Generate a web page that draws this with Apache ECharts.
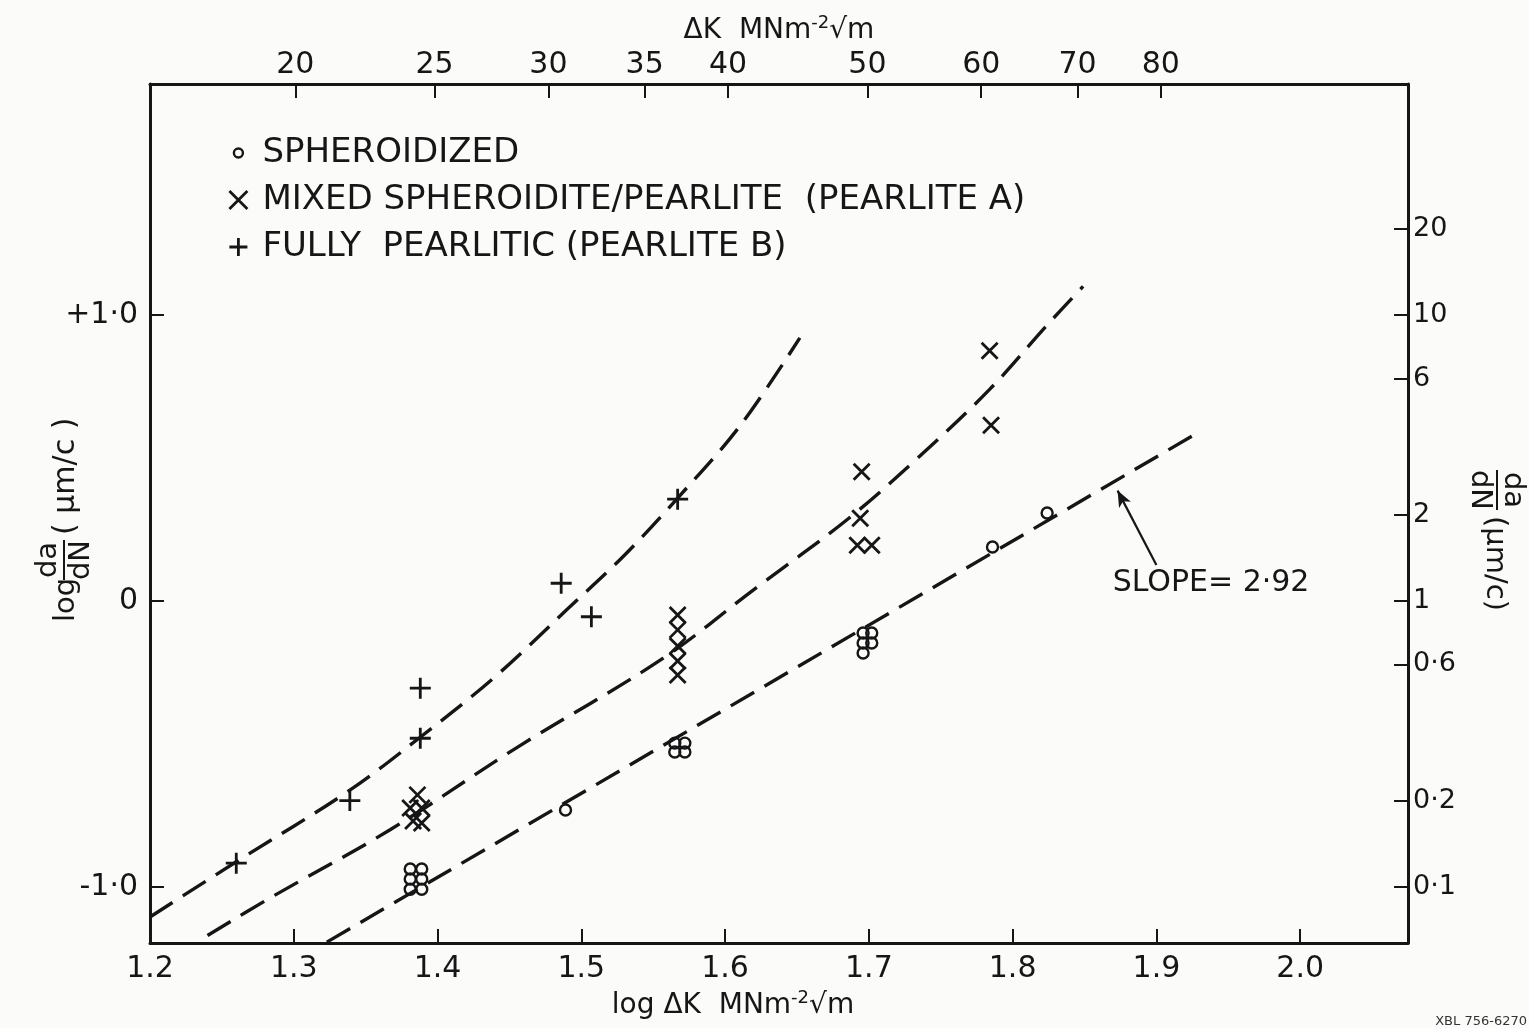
<!DOCTYPE html>
<html>
<head>
<meta charset="utf-8">
<script src="https://cdn.jsdelivr.net/npm/echarts@6/dist/echarts.min.js"></script>
<style>
  html, body { margin: 0; padding: 0; background: #fbfbfa; }
  #chart { width: 1529px; height: 1028px; }
</style>
</head>
<body>
<div id="chart"></div>
<script>
// ---------- data ----------
// Spheroidized (open circles): x = log dK, y = log da/dN
const spheroX = [1.381, 1.389, 1.381, 1.389, 1.381, 1.389, 1.489, 1.565, 1.572, 1.565, 1.572, 1.696, 1.702, 1.696, 1.702, 1.696, 1.786, 1.824];
const spheroY = [-0.937, -0.937, -0.972, -0.972, -1.008, -1.008, -0.731, -0.497, -0.497, -0.528, -0.528, -0.112, -0.112, -0.147, -0.147, -0.182, 0.189, 0.308];
// Mixed spheroidite/pearlite (crosses)
const mixedX = [1.386, 1.381, 1.389, 1.383, 1.389, 1.567, 1.567, 1.567, 1.567, 1.567, 1.695, 1.694, 1.692, 1.702, 1.784, 1.785];
const mixedY = [-0.678, -0.724, -0.724, -0.769, -0.776, -0.049, -0.101, -0.157, -0.210, -0.259, 0.452, 0.289, 0.195, 0.195, 0.875, 0.615];
// Fully pearlitic (plus signs)
const pearlX = [1.260, 1.339, 1.388, 1.388, 1.486, 1.507, 1.567];
const pearlY = [-0.917, -0.698, -0.480, -0.305, 0.062, -0.055, 0.356];
// Dashed trend curves
const curveBX = [1.200, 1.260, 1.338, 1.387, 1.440, 1.490, 1.530, 1.567, 1.610, 1.652];
const curveBY = [-1.105, -0.912, -0.665, -0.480, -0.265, -0.030, 0.160, 0.360, 0.610, 0.920];
const curveAX = [1.240, 1.283, 1.367, 1.456, 1.557, 1.620, 1.685, 1.734, 1.784, 1.824, 1.849];
const curveAY = [-1.170, -1.040, -0.800, -0.510, -0.200, 0.040, 0.285, 0.500, 0.740, 0.965, 1.100];
const fitX = [1.323, 1.931];
const fitY = [-1.193, 0.595];
// Annotation
const slopeText = 'SLOPE= 2·92';
const arrowTail = [1.900, 0.126];
const arrowHead = [1.873, 0.386];
const slopeLabelPos = [1.938, 0.063];
// Axis ticks / labels
const bottomTicks = [1.2, 1.3, 1.4, 1.5, 1.6, 1.7, 1.8, 1.9, 2.0];
const bottomLabels = ['1.2', '1.3', '1.4', '1.5', '1.6', '1.7', '1.8', '1.9', '2.0'];
const leftTicks = [-1, 0, 1];
const leftLabels = ['-1·0', '0', '+1·0'];
const topTickLabels = [20, 25, 30, 35, 40, 50, 60, 70, 80];      // dK, MNm^-2 sqrt(m)
const rightTickLabels = [20, 10, 6, 2, 1, 0.6, 0.2, 0.1];         // da/dN, um/c
const legendNames = ['SPHEROIDIZED', 'MIXED SPHEROIDITE/PEARLITE  (PEARLITE A)', 'FULLY  PEARLITIC (PEARLITE B)'];

// ---------- helpers ----------
const zip = (xs, ys) => xs.map((x, i) => [x, ys[i]]);
const FONT = 'DejaVu Sans';
const INK = '#161616';
const X_MIN = 1.2, X_MAX = 2.075, Y_MIN = -1.196, Y_MAX = 1.808;
const crossPath = 'path://M0,0L20,20M20,0L0,20';
const plusPath = 'path://M10,0L10,20M0,10L20,10';
const circleIcon = 'path://M0,0M20,20M15,10A5,5,0,1,1,5,10A5,5,0,1,1,15,10Z';
const markStyle = { color: 'rgba(0,0,0,0)', borderColor: INK, borderWidth: 2.8, opacity: 1 };
const circleStyle = { color: 'rgba(0,0,0,0)', borderColor: INK, borderWidth: 2.4, opacity: 1 };
const dashStyle = { type: [27, 12], width: 3.4, color: INK, cap: 'butt' };
const findLabel = (v, ticks, labels) => {
  let best = 0;
  ticks.forEach((t, i) => { if (Math.abs(t - v) < Math.abs(ticks[best] - v)) best = i; });
  return labels[best];
};
const fmtRight = v => String(Number(Math.pow(10, v).toPrecision(2))).replace('.', '·');
const nameRich = {
  a: { fontFamily: FONT, fontSize: 28, color: INK, lineHeight: 34, verticalAlign: 'middle' },
  s: { fontFamily: FONT, fontSize: 18, color: INK, lineHeight: 18, verticalAlign: 'top' }
};

const chart = echarts.init(document.getElementById('chart'), null, { renderer: 'canvas' });

const option = {
  animation: false,
  backgroundColor: '#fbfbfa',
  grid: { left: 150, right: 121, top: 84, bottom: 85, containLabel: false },
  legend: {
    orient: 'vertical',
    left: 223,
    top: 131,
    itemGap: 13,
    itemWidth: 18,
    itemHeight: 18,
    selectedMode: false,
    textStyle: { fontFamily: FONT, fontSize: 34, color: INK, padding: [0, 0, 0, 10] },
    data: [
      { name: legendNames[0], icon: circleIcon, itemStyle: circleStyle },
      { name: legendNames[1], icon: crossPath, itemStyle: markStyle },
      { name: legendNames[2], icon: plusPath, itemStyle: markStyle }
    ]
  },
  xAxis: [
    {
      type: 'value', min: X_MIN, max: X_MAX, position: 'bottom',
      name: '{a|log ΔK  MNm}{s|-2}{a|√m}',
      nameLocation: 'middle', nameGap: 42,
      nameTextStyle: { padding: [0, 92, 0, 0], rich: nameRich },
      axisLine: { show: true, onZero: false, lineStyle: { color: INK, width: 3 } },
      axisTick: { show: true, inside: true, length: 14, customValues: bottomTicks, lineStyle: { color: INK, width: 2 } },
      axisLabel: {
        customValues: bottomTicks, margin: 11,
        formatter: v => findLabel(v, bottomTicks, bottomLabels),
        fontFamily: FONT, fontSize: 30, color: INK
      },
      splitLine: { show: false }
    },
    {
      type: 'value', min: X_MIN, max: X_MAX, position: 'top',
      name: '{a|ΔK  MNm}{s|-2}{a|√m}',
      nameLocation: 'middle', nameGap: 33,
      nameTextStyle: { rich: nameRich },
      axisLine: { show: true, onZero: false, lineStyle: { color: INK, width: 3 } },
      axisTick: { show: true, inside: true, length: 14, customValues: topTickLabels.map(Math.log10), lineStyle: { color: INK, width: 2 } },
      axisLabel: {
        customValues: topTickLabels.map(Math.log10), margin: 4,
        formatter: v => String(Math.round(Math.pow(10, v))),
        fontFamily: FONT, fontSize: 30, color: INK
      },
      splitLine: { show: false }
    }
  ],
  yAxis: [
    {
      type: 'value', min: Y_MIN, max: Y_MAX, position: 'left',
      axisLine: { show: true, onZero: false, lineStyle: { color: INK, width: 3 } },
      axisTick: { show: true, inside: true, length: 14, customValues: leftTicks, lineStyle: { color: INK, width: 2 } },
      axisLabel: {
        customValues: leftTicks, margin: 12,
        formatter: v => findLabel(v, leftTicks, leftLabels),
        fontFamily: FONT, fontSize: 30, color: INK
      },
      splitLine: { show: false }
    },
    {
      type: 'value', min: Y_MIN, max: Y_MAX, position: 'right',
      axisLine: { show: true, onZero: false, lineStyle: { color: INK, width: 3 } },
      axisTick: { show: true, inside: true, length: 14, customValues: rightTickLabels.map(Math.log10), lineStyle: { color: INK, width: 2 } },
      axisLabel: {
        customValues: rightTickLabels.map(Math.log10), margin: 5,
        formatter: fmtRight,
        fontFamily: FONT, fontSize: 27, color: INK
      },
      splitLine: { show: false }
    }
  ],
  series: [
    {
      name: 'curveB', type: 'line', data: zip(curveBX, curveBY), smooth: 0.35,
      symbol: 'none', lineStyle: dashStyle, silent: true, z: 2
    },
    {
      name: 'curveA', type: 'line', data: zip(curveAX, curveAY), smooth: 0.35,
      symbol: 'none', lineStyle: dashStyle, silent: true, z: 2
    },
    {
      name: 'fit', type: 'line', data: zip(fitX, fitY),
      symbol: 'none', lineStyle: dashStyle, silent: true, z: 2,
      markLine: {
        silent: true, symbol: ['none', 'arrow'], symbolSize: [10, 16], precision: 3,
        lineStyle: { type: 'solid', width: 2.2, color: INK },
        label: { show: false },
        data: [[{ coord: arrowTail }, { coord: arrowHead }]]
      },
      markPoint: {
        silent: true, symbol: 'rect', symbolSize: 1,
        itemStyle: { color: 'rgba(0,0,0,0)' },
        label: { show: true, position: 'inside', formatter: slopeText, fontFamily: FONT, fontSize: 30, color: INK },
        data: [{ coord: slopeLabelPos }]
      }
    },
    {
      name: legendNames[0], type: 'scatter', data: zip(spheroX, spheroY),
      symbol: 'circle', symbolSize: 11, itemStyle: circleStyle, z: 3
    },
    {
      name: legendNames[1], type: 'scatter', data: zip(mixedX, mixedY),
      symbol: crossPath, symbolSize: 16, itemStyle: markStyle, z: 3
    },
    {
      name: legendNames[2], type: 'scatter', data: zip(pearlX, pearlY),
      symbol: plusPath, symbolSize: 21, itemStyle: markStyle, z: 3
    }
  ],
  graphic: [
    {
      type: 'group', x: 64, y: 505, rotation: Math.PI / 2, silent: true,
      children: [
        { type: 'text', style: { text: 'log', x: -117, y: 2, font: '29px "DejaVu Sans"', fill: INK, textAlign: 'left', textVerticalAlign: 'middle' } },
        { type: 'text', style: { text: 'da', x: -55, y: -16, font: '29px "DejaVu Sans"', fill: INK, textAlign: 'center', textVerticalAlign: 'middle' } },
        { type: 'line', shape: { x1: -75, y1: 0, x2: -35, y2: 0 }, style: { stroke: INK, lineWidth: 2 } },
        { type: 'text', style: { text: 'dN', x: -55, y: 17, font: '29px "DejaVu Sans"', fill: INK, textAlign: 'center', textVerticalAlign: 'middle' } },
        { type: 'text', style: { text: '( μm/c )', x: -30, y: 2, font: '30px "DejaVu Sans"', fill: INK, textAlign: 'left', textVerticalAlign: 'middle' } }
      ]
    },
    {
      type: 'group', x: 1497, y: 530, rotation: -Math.PI / 2, silent: true,
      children: [
        { type: 'text', style: { text: 'da', x: -40, y: -16, font: '29px "DejaVu Sans"', fill: INK, textAlign: 'center', textVerticalAlign: 'middle' } },
        { type: 'line', shape: { x1: -60, y1: 0, x2: -20, y2: 0 }, style: { stroke: INK, lineWidth: 2 } },
        { type: 'text', style: { text: 'dN', x: -40, y: 17, font: '29px "DejaVu Sans"', fill: INK, textAlign: 'center', textVerticalAlign: 'middle' } },
        { type: 'text', style: { text: '(μm/c)', x: -14, y: 2, font: '29px "DejaVu Sans"', fill: INK, textAlign: 'left', textVerticalAlign: 'middle' } }
      ]
    },
    {
      type: 'text', right: 2, bottom: 0, silent: true,
      style: { text: 'XBL 756-6270', font: '13px "DejaVu Sans"', fill: '#333' }
    }
  ]
};

chart.setOption(option);
</script>
</body>
</html>
